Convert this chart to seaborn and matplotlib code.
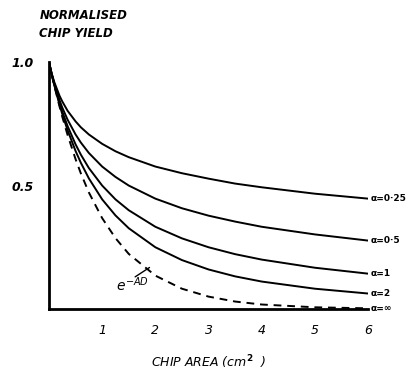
import numpy as np
import pandas as pd
import matplotlib
matplotlib.use("Agg")
import matplotlib.pyplot as plt
import seaborn as sns

# Chip area (cm^2)
area = [0, 0.05, 0.1, 0.2, 0.25, 0.35, 0.5, 0.6, 0.75, 1, 1.25, 1.5, 2, 2.5, 3, 3.5, 4, 5, 6]
# Normalised chip yield
y_a025 = [1.0, 0.955, 0.919, 0.863, 0.841, 0.803, 0.760, 0.736, 0.707, 0.669, 0.639, 0.615, 0.577, 0.550, 0.528, 0.508, 0.493, 0.467, 0.447]
y_a05 = [1.0, 0.953, 0.913, 0.845, 0.816, 0.767, 0.707, 0.674, 0.632, 0.577, 0.535, 0.500, 0.447, 0.408, 0.378, 0.354, 0.333, 0.302, 0.277]
y_a1 = [1.0, 0.952, 0.909, 0.833, 0.800, 0.741, 0.667, 0.625, 0.571, 0.500, 0.444, 0.400, 0.333, 0.286, 0.250, 0.222, 0.200, 0.167, 0.143]
y_a2 = [1.0, 0.952, 0.907, 0.826, 0.790, 0.724, 0.640, 0.592, 0.529, 0.444, 0.379, 0.327, 0.250, 0.198, 0.160, 0.132, 0.111, 0.082, 0.0625]
y_inf = [1.0, 0.951, 0.905, 0.819, 0.779, 0.705, 0.607, 0.549, 0.472, 0.368, 0.287, 0.223, 0.135, 0.082, 0.050, 0.030, 0.018, 0.0067, 0.0025]

series = ["α=0·25", "α=0·5", "α=1", "α=2", "α=∞"]
values = [y_a025, y_a05, y_a1, y_a2, y_inf]

frames = []
for name, v in zip(series, values):
    frames.append(pd.DataFrame({"area": area, "yield": v, "series": name}))
df = pd.concat(frames, ignore_index=True)

sns.set_style("white")
plt.rcParams['font.family'] = ['DejaVu Sans']
plt.rcParams['text.color'] = 'black'
plt.rcParams['axes.labelcolor'] = 'black'
plt.rcParams['xtick.color'] = 'black'
plt.rcParams['ytick.color'] = 'black'

fig = plt.figure(figsize=(4.15, 3.70), dpi=100)
ax = fig.add_axes([0.118, 0.165, 0.769, 0.667])

palette = {s: "black" for s in series}
dashes = {s: "" for s in series}
dashes["α=∞"] = (4, 3)
sns.lineplot(data=df, x="area", y="yield", hue="series", style="series",
             palette=palette, dashes=dashes, linewidth=1.4, legend=False, ax=ax)

ax.set_xlim(0, 6)
ax.set_ylim(0, 1.0)
for s in ["top", "right"]:
    ax.spines[s].set_visible(False)
for s in ["left", "bottom"]:
    ax.spines[s].set_linewidth(2.0)
    ax.spines[s].set_color("black")

ax.set_xticks([1, 2, 3, 4, 5, 6])
ax.set_xticklabels(["1", "2", "3", "4", "5", "6"], fontstyle="italic", fontsize=9)
ax.set_yticks([0.5, 1.0])
ax.set_yticklabels(["0.5", "1.0"], fontstyle="italic", fontsize=9, fontweight="bold")
ax.tick_params(axis="x", direction="in", length=4, width=1.2, pad=11, colors="black")
ax.tick_params(axis="y", direction="out", length=3, width=1.2, pad=8, colors="black")
ax.set_xlabel("CHIP AREA (cm$^{\\bf 2}$  )", fontstyle="italic", fontsize=9, labelpad=12,
              color="black")
ax.set_ylabel("")

fig.text(0.095, 0.975, "NORMALISED\nCHIP YIELD", ha="left", va="top", color="black",
         fontsize=8.5, fontstyle="italic", fontweight="bold", linespacing=1.5)

for name, v in zip(series, values):
    ax.text(6.05, v[-1], name, ha="left", va="center", color="black",
            fontsize=6.5, fontweight="bold", clip_on=False)

ax.text(1.58, 0.097, "$e^{-AD}$", ha="center", va="center", fontsize=10, color="black")
ax.annotate("", xy=(1.89, 0.168), xytext=(1.62, 0.13),
            arrowprops=dict(arrowstyle="-", lw=1.0, color="black",
                            shrinkA=0, shrinkB=0))

fig.savefig("out.png", dpi=100)
